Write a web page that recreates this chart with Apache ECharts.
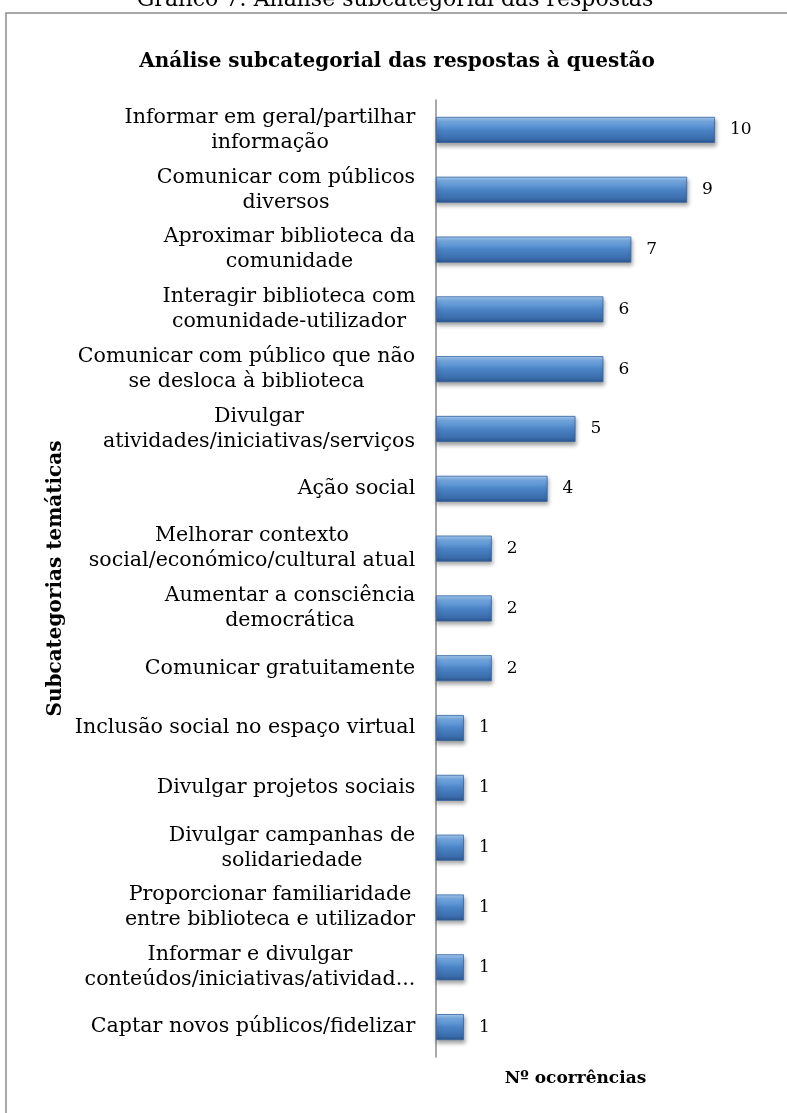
<!DOCTYPE html>
<html><head><meta charset="utf-8">
<script src="https://cdn.jsdelivr.net/npm/echarts@6/dist/echarts.min.js"></script>
<style>html,body{margin:0;padding:0;background:#fff}#c{width:787px;height:1113px}</style>
</head><body><div id="c"></div>
<script>
const categories = [
  "Informar em geral/partilhar\ninformação",
  "Comunicar com públicos\ndiversos",
  "Aproximar biblioteca da\ncomunidade",
  "Interagir biblioteca com\ncomunidade-utilizador",
  "Comunicar com público que não\nse desloca à biblioteca",
  "Divulgar\natividades/iniciativas/serviços",
  "Ação social",
  "Melhorar contexto\nsocial/económico/cultural atual",
  "Aumentar a consciência\ndemocrática",
  "Comunicar gratuitamente",
  "Inclusão social no espaço virtual",
  "Divulgar projetos sociais",
  "Divulgar campanhas de\nsolidariedade",
  "Proporcionar familiaridade\nentre biblioteca e utilizador",
  "Informar e divulgar\nconteúdos/iniciativas/atividad...",
  "Captar novos públicos/fidelizar"
];
const values = [10, 9, 7, 6, 6, 5, 4, 2, 2, 2, 1, 1, 1, 1, 1, 1];
const caption = "Gráfico 7: Análise subcategorial das respostas";
const chartTitle = "Análise subcategorial das respostas à questão";
const yAxisTitle = "Subcategorias temáticas";
const xAxisTitle = "Nº ocorrências";

const FONT = "DejaVu Serif";
const LFS = 20.6;
const cv = document.createElement('canvas').getContext('2d');
cv.font = LFS + 'px "' + FONT + '"';
const rich = {};
categories.forEach((c, i) => {
  const w = Math.max(...c.split('\n').map(s => cv.measureText(s).width));
  rich['l' + i] = { width: Math.ceil(w) + 1, align: 'center', fontFamily: FONT, fontSize: LFS, lineHeight: 25, color: '#000' };
});

const chart = echarts.init(document.getElementById('c'), null, { renderer: 'canvas' });
chart.setOption({
  animation: false,
  backgroundColor: '#fff',
  title: {
    text: chartTitle, left: 392, top: 47, textAlign: 'center',
    textStyle: { fontFamily: FONT, fontWeight: 'bold', fontSize: 20, color: '#000' }
  },
  graphic: [
    { type: 'rect', shape: { x: 6, y: 13, width: 900, height: 1300 }, style: { fill: 'none', stroke: '#8c8c8c', lineWidth: 1.5 }, silent: true },
    { type: 'text', x: 395, y: -11, style: { text: caption, fontFamily: FONT, fontSize: 22, fill: '#000', textAlign: 'center', textVerticalAlign: 'top' } }
  ],
  grid: { left: 436, top: 100, width: 279, height: 957, containLabel: false },
  xAxis: {
    type: 'value', min: 0, max: 10,
    axisLine: { show: false }, axisTick: { show: false }, axisLabel: { show: false }, splitLine: { show: false },
    name: xAxisTitle, nameLocation: 'middle', nameGap: 13,
    nameTextStyle: { fontFamily: FONT, fontWeight: 'bold', fontSize: 17, color: '#000' }
  },
  yAxis: {
    type: 'category', data: categories, inverse: true,
    axisLine: { show: true, lineStyle: { color: '#8c8c8c', width: 1.5 } },
    axisTick: { show: false },
    axisLabel: {
      margin: 20, align: 'right',
      formatter: (v, i) => v.split('\n').map(s => '{l' + i + '|' + s + '}').join('\n'),
      rich: rich
    },
    name: yAxisTitle, nameLocation: 'middle', nameGap: 370, nameRotate: 90,
    nameTextStyle: { fontFamily: FONT, fontWeight: 'bold', fontSize: 20, color: '#000' }
  },
  series: [{
    type: 'bar', data: values, barWidth: 26,
    itemStyle: {
      color: new echarts.graphic.LinearGradient(0, 0, 0, 1, [
        { offset: 0, color: '#a9cdf2' },
        { offset: 0.18, color: '#74a9e2' },
        { offset: 0.5, color: '#4b84c6' },
        { offset: 0.85, color: '#3a6cab' },
        { offset: 1, color: '#2b5389' }
      ]),
      borderColor: '#3566a3', borderWidth: 0.8,
      shadowColor: 'rgba(0,0,0,0.35)', shadowBlur: 4, shadowOffsetX: 1, shadowOffsetY: 3
    },
    label: { show: true, position: 'right', distance: 15, fontFamily: FONT, fontSize: 17, color: '#000' }
  }]
});
</script></body></html>
